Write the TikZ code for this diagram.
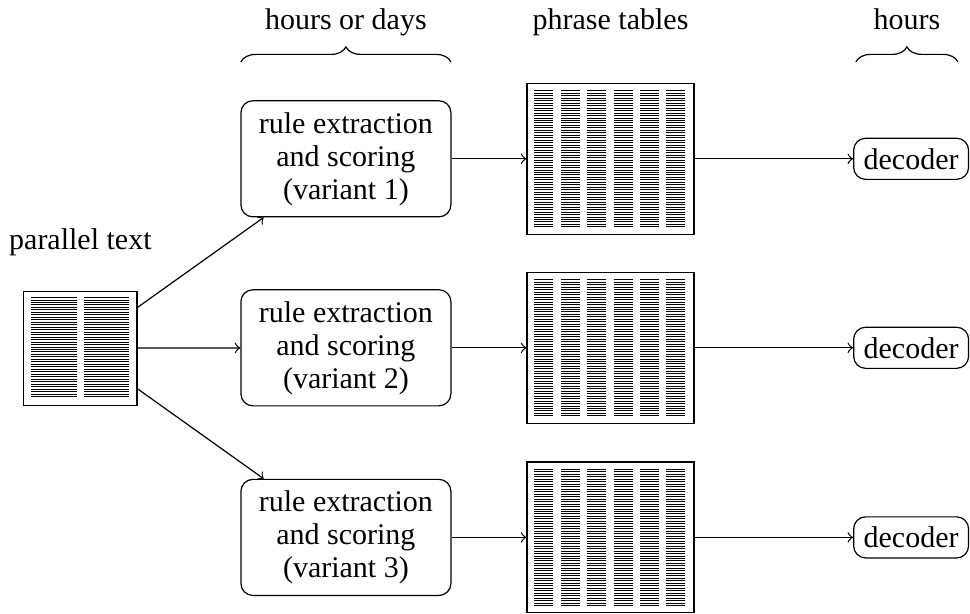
\documentclass[tikz,border=0pt]{standalone}
\usepackage{fontspec}
\setmainfont{Liberation Serif}
\usetikzlibrary{positioning,decorations.pathreplacing}

\begin{document}
\begin{tikzpicture}[
      doc/.style={draw,minimum width=37.7pt,minimum height=38pt,inner sep=0pt},
      rule/.style={draw,rounded corners,align=center,minimum width=70pt,minimum height=38.7pt,
                   font=\fontsize{10pt}{11pt}\selectfont},
      tab/.style={draw,minimum width=55.7pt,minimum height=50.3pt,inner sep=0pt},
      dec/.style={draw,rounded corners},
      txt/.style={line width=0.3pt},
      brc/.style={decorate,decoration={brace,amplitude=5pt}},
      hdr/.style={midway,above=5pt,text height=7pt,text depth=2.2pt},
      x=1pt,y=1pt]
    \useasboundingbox (0,0) rectangle (323.33,204.33);
    % input
    \node[doc] (doc) at (26.8,88.3) {};
    \node[above=8pt of doc] (lpar) {parallel text};
    % three pipelines
    \foreach \i/\y in {1/151.4,2/88.4,3/25.2} {
      \node[rule] (rule\i) at (115.3,\y) {rule extraction\\and scoring\\(variant \i)};
      \node[tab] (tab\i) at (203.5,\y) {};
      \node[dec] (dec\i) at (303.7,\y) {decoder};
      \draw[->] (doc) -- (rule\i);
      \draw[->] (rule\i) -- (tab\i);
      \draw[->] (tab\i) -- (dec\i);
    }
    % text lines
    \foreach \r in {0,...,40} {
      \draw[txt] ([shift={(2.67,-2.33-0.825*\r)}]doc.north west) -- ++(15.3,0);
      \draw[txt] ([shift={(20.3,-2.33-0.825*\r)}]doc.north west) -- ++(15,0);
    }
    \foreach \t in {tab1,tab2,tab3}
      \foreach \c in {0,...,5}
        \foreach \r in {0,...,55}
          \draw[txt] ([shift={(2.67+8.8*\c,-2.67-0.825*\r)}]\t.north west) -- ++(6.33,0);
    % headers
    \coordinate (b1) at (80.3,183.7);
    \coordinate (b2) at (150.3,183.7);
    \coordinate (b3) at (285.3,183.7);
    \coordinate (b4) at (319.3,183.7);
    \draw[brc] (b1) -- (b2) node[hdr] (lhod) {hours or days};
    \draw[brc] (b3) -- (b4) node[hdr] (lhrs) {hours};
    \node[text height=7pt,text depth=2.2pt] at (tab1 |- lhod) (lphr) {phrase tables};
  \end{tikzpicture}
\end{document}
